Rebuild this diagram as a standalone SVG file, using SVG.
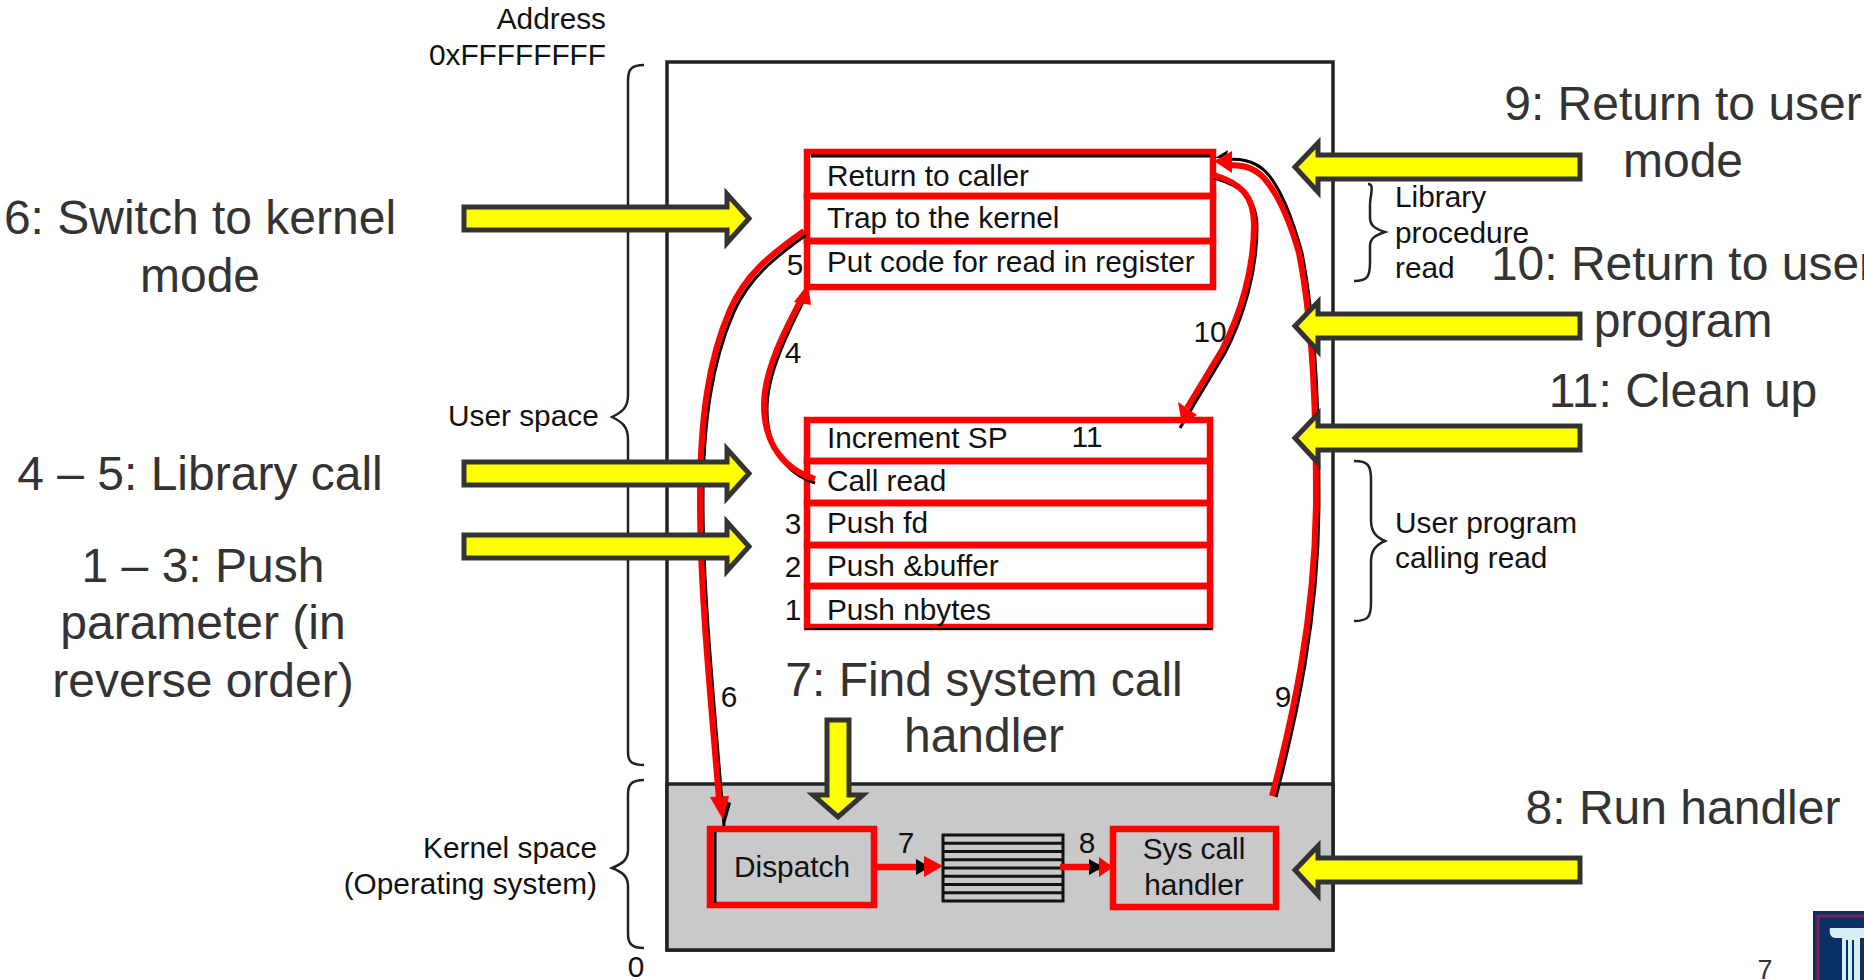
<svg xmlns="http://www.w3.org/2000/svg" width="1864" height="980" viewBox="0 0 1864 980">
<style>
text{font-family:"Liberation Sans",Arial,sans-serif}
.big{font-size:48px;fill:#333;text-anchor:middle}
.sm{font-size:29.800px;fill:#111}
.end{text-anchor:end}
.mid{text-anchor:middle}
.box{fill:none;stroke:#f00;stroke-width:6.500}
.ya{fill:#ff0;stroke:#333;stroke-width:5}
.br{fill:none;stroke:#222;stroke-width:2.500}
.bk{fill:none;stroke:#000;stroke-width:3}
.rd{fill:none;stroke:#f00;stroke-width:6}
</style>
<defs>
<polygon id="ar" class="ya" points="464,207 727,207 727,194 749,218.500 727,243 727,230 464,230"/>
<polygon id="al" class="ya" points="1580,155 1318,155 1318,143 1295,167 1318,192 1318,179 1580,179"/>
</defs>
<g id="memory">
<rect x="667" y="62" width="666" height="888" fill="#fff" stroke="#222" stroke-width="3.500"/>
<rect x="667" y="784" width="666" height="166" fill="#c9c9c9" stroke="#222" stroke-width="3.500"/>
</g>
<g id="braces">
<path class="br" d="M644 65C632 65 628 69 628 80V395C628 408 622 412 612 417C622 422 628 426 628 440V752C628 762 632 765 644 765"/>
<path class="br" d="M644 780C632 780 628 784 628 794V850C628 860 622 864 612 868C622 872 628 876 628 886V934C628 944 632 948 644 948"/>
<path class="br" d="M1368 184C1375 184 1370 195 1370 205V218C1370 226 1376 229 1385 232C1376 235 1370 238 1370 246V262C1370 276 1368 281 1354 281"/>
<path class="br" d="M1354 461C1368 461 1371 465 1371 480V520C1371 532 1376 537 1385 541C1376 545 1371 550 1371 562V603C1371 617 1368 621 1354 621"/>
</g>
<g id="table">
<rect x="943" y="835" width="120" height="66" fill="none" stroke="#111" stroke-width="3"/>
<path d="M943 843.300H1063M943 851.500H1063M943 859.800H1063M943 868H1063M943 876.300H1063M943 884.500H1063M943 892.800H1063" stroke="#111" stroke-width="3" fill="none"/>
</g>
<g id="stack-library">
<rect class="box" x="807" y="152" width="406" height="44"/>
<path d="M811 156H1210" stroke="#000" stroke-width="3"/>
<rect class="box" x="807" y="196" width="406" height="45"/>
<rect class="box" x="807" y="241" width="406" height="46"/>
<text class="sm" x="827" y="186">Return to caller</text>
<text class="sm" x="827" y="228">Trap to the kernel</text>
<text class="sm" x="827" y="272">Put code for read in register</text>
</g>
<g id="stack-user">
<rect class="box" x="807" y="420" width="403" height="41"/>
<rect class="box" x="807" y="461" width="403" height="42"/>
<rect class="box" x="807" y="503" width="403" height="42"/>
<rect class="box" x="807" y="545" width="403" height="41"/>
<rect class="box" x="807" y="586" width="403" height="41"/>
<path d="M805 629H1212" stroke="#000" stroke-width="2"/>
<text class="sm" x="827" y="448">Increment SP</text>
<text class="sm" x="827" y="491">Call read</text>
<text class="sm" x="827" y="533">Push fd</text>
<text class="sm" x="827" y="576">Push &amp;buffer</text>
<text class="sm" x="827" y="620">Push nbytes</text>
</g>
<g id="dispatch">
<rect class="box" x="710" y="829" width="164" height="76"/>
<path d="M715 832V903" stroke="#000" stroke-width="3"/>
<text class="sm mid" x="792" y="877">Dispatch</text>
</g>
<g id="handler">
<rect class="box" x="1113" y="829" width="163" height="78"/>
<text class="sm mid" x="1194" y="859">Sys call</text>
<text class="sm mid" x="1194" y="895">handler</text>
</g>
<g id="connectors">
<path class="bk" d="M806 235C774 258 749 278 734 312C712 362 703 422 703 502C703 592 714 700 724 826"/>
<path class="rd" d="M804 231C770 255 745 275 730 310C708 360 700 420 700 500C700 590 710 690 719 800"/>
<polygon points="725,801 731,803 725,824 723,812" fill="#000"/>
<polygon points="710,797 729,796 723,820" fill="#f00"/>
<path class="bk" d="M815 483C787 474 767 449 767 409C767 374 787 334 805 298"/>
<path class="rd" d="M815 479C785 470 764 445 764 405C764 370 785 330 803 296"/>
<polygon points="794,302 811,305 808,284" fill="#f00"/>
<path class="bk" d="M1214 178C1242 186 1257 198 1257 228C1257 273 1243 318 1225 353L1180 428"/>
<path class="rd" d="M1214 175C1240 183 1254 195 1254 225C1254 270 1240 315 1222 350L1187 408"/>
<polygon points="1178,402 1197,415 1182,425" fill="#f00"/>
<path class="bk" d="M1276 797C1296 720 1319 620 1319 500C1319 400 1315 320 1302 253C1291 213 1278 185 1266 172C1254 160 1240 158 1220 160"/>
<path class="rd" d="M1272 796C1292 720 1315 620 1316 500C1316 400 1312 320 1299 253C1288 215 1275 190 1263 177C1253 167 1243 165 1225 165"/>
<polygon points="1215,158 1228,150 1226,158" fill="#000"/>
<polygon points="1214,161 1232,151 1232,173" fill="#f00"/>
<path d="M875 867H930" stroke="#f00" stroke-width="6.500"/>
<polygon points="916,859 930,867 916,875" fill="#000"/>
<polygon points="924,856 943,866 924,877" fill="#f00"/>
<path d="M1060 867H1100" stroke="#f00" stroke-width="6.500"/>
<polygon points="1089,859 1103,867 1089,875" fill="#000"/>
<polygon points="1099,857 1113,867 1099,877" fill="#f00"/>
</g>
<g id="callouts">
<use href="#ar"/>
<use href="#ar" y="255"/>
<use href="#ar" y="328"/>
<use href="#al"/>
<use href="#al" y="159"/>
<use href="#al" y="271"/>
<use href="#al" y="703"/>
<polygon class="ya" points="827,720 849,720 849,795 863,795 838,817 813,795 827,795"/>
</g>
<g id="labels">
<text class="sm end" x="606" y="29">Address</text>
<text class="sm end" x="606" y="65">0xFFFFFFFF</text>
<text class="sm" x="448" y="426">User space</text>
<text class="sm end" x="597" y="858">Kernel space</text>
<text class="sm end" x="597" y="894">(Operating system)</text>
<text class="sm mid" x="636" y="977">0</text>
<text class="sm" x="1395" y="207">Library</text>
<text class="sm" x="1395" y="243">procedure</text>
<text class="sm" x="1395" y="278">read</text>
<text class="sm" x="1395" y="533">User program</text>
<text class="sm" x="1395" y="568">calling read</text>
<text class="sm mid" x="795" y="275">5</text>
<text class="sm mid" x="793" y="363">4</text>
<text class="sm mid" x="1210" y="342">10</text>
<text class="sm mid" x="1087" y="447">11</text>
<text class="sm mid" x="793" y="534">3</text>
<text class="sm mid" x="793" y="577">2</text>
<text class="sm mid" x="793" y="620">1</text>
<text class="sm mid" x="729" y="707">6</text>
<text class="sm mid" x="1283" y="707">9</text>
<text class="sm mid" x="906" y="853">7</text>
<text class="sm mid" x="1087" y="853">8</text>
<text class="big" x="200" y="234">6: Switch to kernel</text>
<text class="big" x="200" y="292">mode</text>
<text class="big" x="200" y="490">4 – 5: Library call</text>
<text class="big" x="203" y="582">1 – 3: Push</text>
<text class="big" x="203" y="639">parameter (in</text>
<text class="big" x="203" y="697">reverse order)</text>
<text class="big" x="984" y="696">7: Find system call</text>
<text class="big" x="984" y="752">handler</text>
<text class="big" x="1683" y="120">9: Return to user</text>
<text class="big" x="1683" y="177">mode</text>
<text class="big" x="1683" y="280">10: Return to user</text>
<text class="big" x="1683" y="337">program</text>
<text class="big" x="1683" y="407">11: Clean up</text>
<text class="big" x="1683" y="824">8: Run handler</text>
<text x="1765" y="979" font-size="27" fill="#333" text-anchor="middle">7</text>
</g>
<g id="logo">
<rect x="1813" y="911" width="51" height="69" fill="#0a2f66"/>
<path d="M1818 980V916H1864" fill="none" stroke="#7a2450" stroke-width="3"/>
<path d="M1830 928H1864V938H1860V980H1842V938H1836C1830 938 1829 932 1830 928Z" fill="#d8eef2"/>
<path d="M1847 940V980M1853 940V980" stroke="#0a2f66" stroke-width="2"/>
</g>
</svg>
